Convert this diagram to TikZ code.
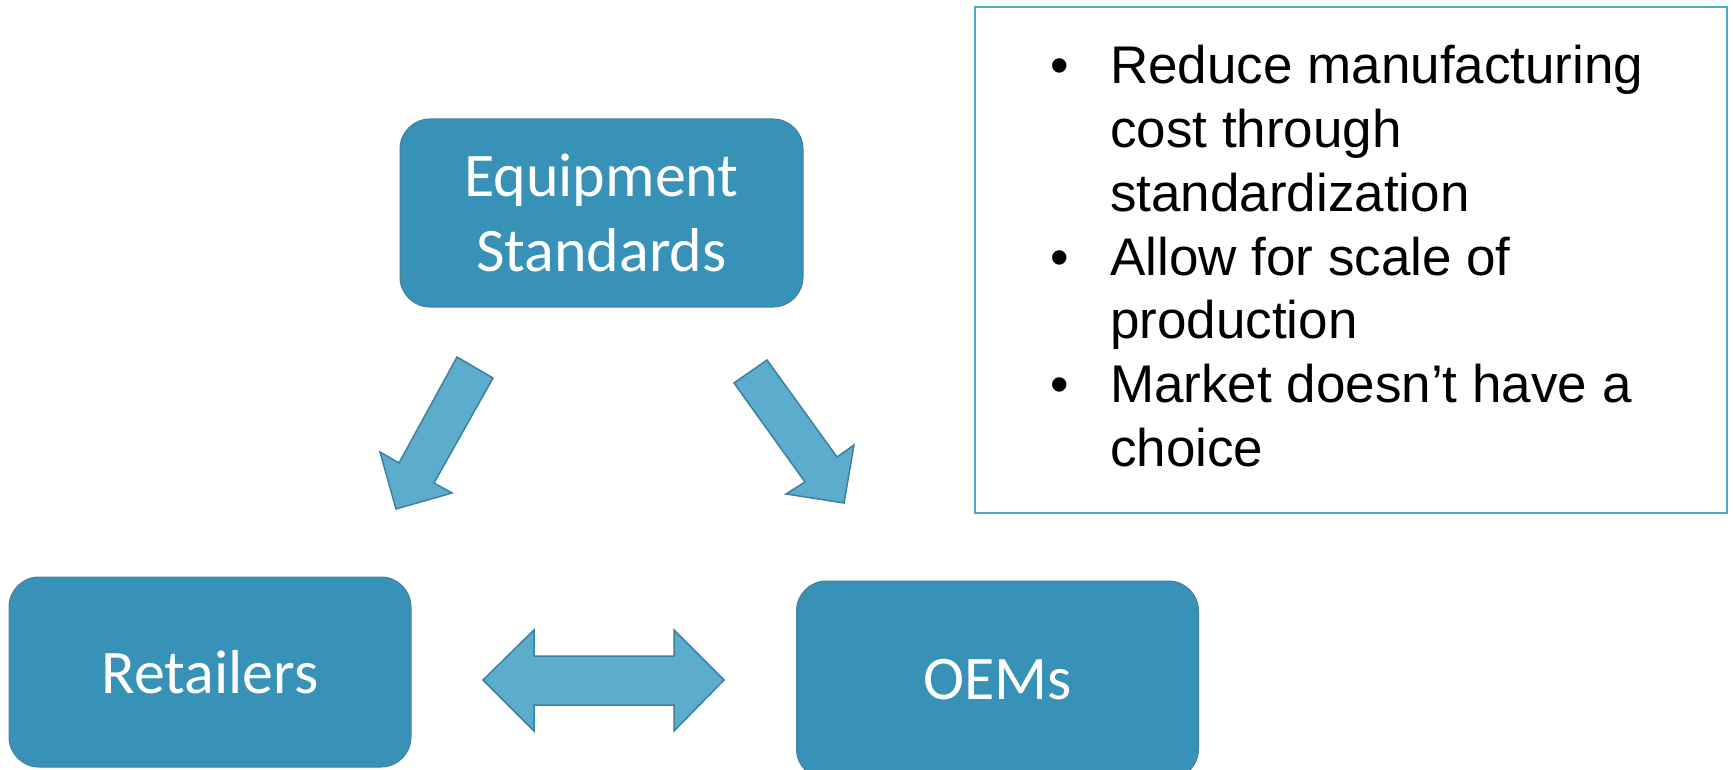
\documentclass[tikz,border=0pt]{standalone}
\usepackage{fontspec}
\setmainfont{Liberation Sans}
\newfontfamily\boxfont{Carlito}
\definecolor{boxblue}{RGB}{56,145,183}
\definecolor{boxedge}{RGB}{66,128,158}
\definecolor{arrowfill}{RGB}{92,173,205}
\definecolor{arrowedge}{RGB}{62,128,156}
\definecolor{noteedge}{RGB}{75,172,198}
\begin{document}
\begin{tikzpicture}[x=1pt,y=-1pt,
  block/.style={draw=boxedge,line width=1pt,fill=boxblue,rounded corners=30pt,
    text=white,align=center,inner sep=0pt,
    font=\boxfont\fontsize{62}{75}\selectfont},
  blockarrow/.style={draw=arrowedge,line width=1.5pt,fill=arrowfill,line join=miter},
  note/.style={draw=noteedge,line width=2pt,fill=white,inner sep=0pt}]
\useasboundingbox (0,0) rectangle (1733,770);

% the three parties
\node[block,minimum width=403pt,minimum height=188pt] (std) at (601.5,213) {Equipment\\Standards};
\node[block,minimum width=402pt,minimum height=190pt] (ret) at (210,672) {Retailers};
\node[block,minimum width=402pt,minimum height=198pt] (oem) at (997.5,680) {OEMs};

% block arrows between them
\draw[blockarrow] (457,357) -- (493,378) -- (434,483) -- (452,493) -- (396,509)
  -- (380,452) -- (399,463) -- cycle;
\draw[blockarrow] (734,383) -- (767,360) -- (837,457) -- (854,445) -- (844,503)
  -- (786,494) -- (805,482) -- cycle;
\draw[blockarrow] (483,680) -- (534,630) -- (534,656) -- (674,656) -- (674,630)
  -- (724,680) -- (674,731) -- (674,705) -- (534,705) -- (534,731) -- cycle;

% notes on the right
\node[note,minimum width=752pt,minimum height=506pt] (notes) at (1351,260) {};
\node[anchor=base west,inner sep=0pt,font=\fontsize{53}{63.7}\selectfont] (items) at (1050,84)
{\begin{tabular}[t]{@{}p{60pt}@{}l@{}}
\textbullet & Reduce manufacturing\\
 & cost through\\
 & standardization\\
\textbullet & Allow for scale of\\
 & production\\
\textbullet & Market doesn’t have a\\
 & choice
\end{tabular}};
\end{tikzpicture}
\end{document}
